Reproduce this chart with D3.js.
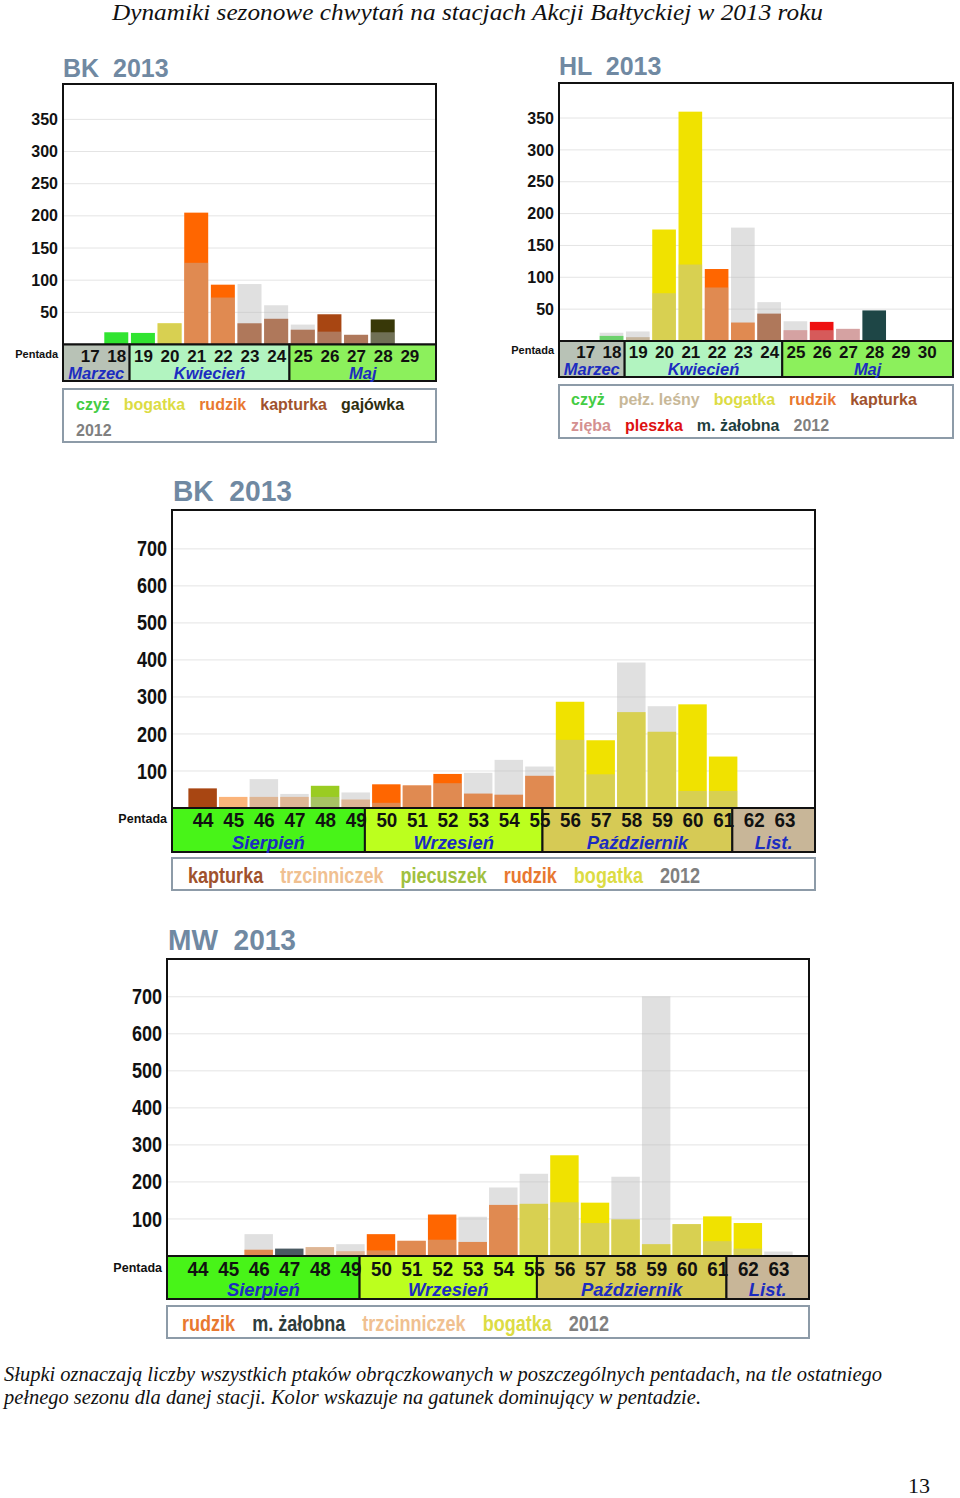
<!DOCTYPE html>
<html><head><meta charset="utf-8">
<script src="https://cdn.jsdelivr.net/npm/d3@7"></script>
<style>body{margin:0;background:#fff} svg{display:block}</style>
</head><body><svg id="c" width="960" height="1498"></svg>
<script>
// ---------------- DATA ----------------
const pageTitle = "Dynamiki sezonowe chwytań na stacjach Akcji Bałtyckiej w 2013 roku";
const captionLines = [
  "Słupki oznaczają liczby wszystkich ptaków obrączkowanych w poszczególnych pentadach, na tle ostatniego",
  "pełnego sezonu dla danej stacji. Kolor wskazuje na gatunek dominujący w pentadzie."
];
const pageNumber = "13";

const springTicks = [50, 100, 150, 200, 250, 300, 350];
const autumnTicks = [100, 200, 300, 400, 500, 600, 700];
const springMonths = ["Marzec", "Kwiecień", "Maj"];
const autumnMonths = ["Sierpień", "Wrzesień", "Październik", "List."];

// BK spring
const bkSpringPentads = [17, 18, 19, 20, 21, 22, 23, 24, 25, 26, 27, 28, 29];
const bkSpring2013 = [0, 19, 18, 33, 205, 93, 33, 40, 23, 47, 15, 39, 0];
const bkSpring2012 = [0, 0, 0, 33, 127, 73, 94, 61, 31, 20, 15, 19, 0];
const bkSpringSpecies = [null, "czyż", "czyż", "bogatka", "rudzik", "rudzik", "kapturka", "kapturka", "kapturka", "kapturka", "kapturka", "gajówka", null];
const bkSpringMonthEdges = [16, 18.5, 24.5, 30];
const bkSpringLegend = ["czyż", "bogatka", "rudzik", "kapturka", "gajówka", "2012"];

// HL spring
const hlPentads = [17, 18, 19, 20, 21, 22, 23, 24, 25, 26, 27, 28, 29, 30];
const hl2013 = [0, 8, 6, 175, 360, 113, 29, 43, 17, 30, 19, 48, 0, 0];
const hl2012 = [0, 13, 15, 75, 120, 84, 178, 61, 31, 17, 19, 0, 0, 0];
const hlSpecies = [null, "czyż", "pełz. leśny", "bogatka", "bogatka", "rudzik", "rudzik", "kapturka", "zięba", "pleszka", "zięba", "m. żałobna", null, null];
const hlMonthEdges = [16, 18.5, 24.5, 31];
const hlLegend = ["czyż", "pełz. leśny", "bogatka", "rudzik", "kapturka", "zięba", "pleszka", "m. żałobna", "2012"];

// BK autumn
const autumnPentads = [44, 45, 46, 47, 48, 49, 50, 51, 52, 53, 54, 55, 56, 57, 58, 59, 60, 61, 62, 63];
const bkAutumn2013 = [53, 30, 30, 30, 60, 23, 64, 61, 92, 39, 36, 87, 287, 183, 259, 206, 280, 139, 0, 0];
const bkAutumn2012 = [0, 0, 78, 38, 30, 42, 14, 61, 67, 95, 130, 112, 184, 91, 393, 275, 46, 46, 0, 0];
const bkAutumnSpecies = ["kapturka", "trzcinniczek", "trzcinniczek", "trzcinniczek", "piecuszek", "trzcinniczek", "rudzik", "rudzik", "rudzik", "rudzik", "rudzik", "rudzik", "bogatka", "bogatka", "bogatka", "bogatka", "bogatka", "bogatka", null, null];
const autumnMonthEdges = [43, 49.3, 55.1, 61.3, 64];
const bkAutumnLegend = ["kapturka", "trzcinniczek", "piecuszek", "rudzik", "bogatka", "2012"];

// MW autumn
const mw2013 = [0, 0, 17, 20, 24, 13, 59, 41, 112, 38, 138, 141, 272, 144, 99, 32, 86, 107, 89, 0];
const mw2012 = [0, 0, 59, 0, 24, 32, 15, 41, 44, 106, 185, 222, 145, 89, 214, 701, 86, 40, 20, 12];
const mwSpecies = [null, null, "rudzik", "m. żałobna", "trzcinniczek", "trzcinniczek", "rudzik", "rudzik", "rudzik", "rudzik", "rudzik", "bogatka", "bogatka", "bogatka", "bogatka", "bogatka", "bogatka", "bogatka", "bogatka", null];
const mwLegend = ["rudzik", "m. żałobna", "trzcinniczek", "bogatka", "2012"];

// ---------------- STYLE ----------------
const SANS = "'Liberation Sans', Arial, sans-serif";
const SERIF = "'Liberation Serif', 'Times New Roman', serif";
const barColor = {
  "czyż": "#30e430", "bogatka": "#f0e200", "rudzik": "#ff6600", "kapturka": "#a84612",
  "gajówka": "#383808", "pełz. leśny": "#d0b488", "zięba": "#ec9090", "pleszka": "#ee1010",
  "m. żałobna": "#1e4646", "trzcinniczek": "#fbb47a", "piecuszek": "#9acc22"
};
const textColor = {
  "czyż": "#44cc44", "bogatka": "#dcdc44", "rudzik": "#e87830", "kapturka": "#a0522d",
  "gajówka": "#2e2e10", "2012": "#808080", "pełz. leśny": "#c8b898", "zięba": "#d49090",
  "pleszka": "#dd1111", "m. żałobna": "#1e3e3e", "trzcinniczek": "#f0c090", "piecuszek": "#a0c040"
};
const springMonthColors = ["#b8c2b6", "#b2f4c0", "#8cf05c"];
const autumnMonthColors = ["#48f418", "#bcff1e", "#d6ca55", "#c8b698"];
const monthTextColor = "#1c2cc0";
const titleColor = "#7089a2";

const svg = d3.select("#c");

// horizontally condense text (narrow face not installed)
function condense(sel, f) {
  if (f === 1) return;
  sel.each(function () {
    const w = this.getComputedTextLength();
    d3.select(this).attr("textLength", w * f).attr("lengthAdjust", "spacingAndGlyphs");
  });
}

function drawChart(c) {
  const g = svg.append("g");
  const x = d3.scaleLinear().domain(c.domain).range([c.x0, c.x1]);
  const y = d3.scaleLinear().domain([0, c.ymax]).range([c.y1, c.y0]);
  const step = x(1) - x(0);
  const bw = step * c.barFrac;
  const colors = Object.assign({}, barColor, c.colorOverride || {});
  const f = c.squeeze;

  g.selectAll("line.grid").data(c.ticks).join("line")
    .attr("x1", c.x0).attr("x2", c.x1)
    .attr("y1", d => y(d)).attr("y2", d => y(d))
    .attr("stroke", "#e4e4e4").attr("stroke-width", 1);

  const ax = g.append("g").attr("transform", `translate(${c.x0 - 2},0)`)
    .call(d3.axisLeft(y).tickValues(c.ticks).tickSize(0).tickPadding(3));
  ax.select(".domain").remove();
  ax.attr("font-family", SANS).attr("font-size", c.tickSize).attr("font-weight", "bold");
  ax.selectAll("text").attr("fill", "#111");
  condense(ax.selectAll("text"), f);

  const rows = c.pentads.map((p, i) => ({ p, v13: c.v13[i], v12: c.v12[i], sp: c.species[i] }));
  g.selectAll("rect.b13").data(rows.filter(r => r.v13 > 0)).join("rect")
    .attr("x", r => x(r.p) - bw / 2).attr("width", bw)
    .attr("y", r => y(r.v13)).attr("height", r => y(0) - y(r.v13))
    .attr("fill", r => colors[r.sp]);
  g.selectAll("rect.b12").data(rows.filter(r => r.v12 > 0)).join("rect")
    .attr("x", r => x(r.p) - bw / 2).attr("width", bw)
    .attr("y", r => y(r.v12)).attr("height", r => y(0) - y(r.v12))
    .attr("fill", "#b8b8b8").attr("fill-opacity", 0.44);

  g.append("rect").attr("x", c.x0).attr("y", c.y0).attr("width", c.x1 - c.x0).attr("height", c.y1 - c.y0)
    .attr("fill", "none").attr("stroke", "#111").attr("stroke-width", 2);

  const months = c.months.map((m, i) => ({ m, a: c.edges[i], b: c.edges[i + 1], col: c.monthColors[i] }));
  g.selectAll("rect.month").data(months).join("rect")
    .attr("x", d => x(d.a)).attr("width", d => x(d.b) - x(d.a))
    .attr("y", c.y1).attr("height", c.band)
    .attr("fill", d => d.col).attr("stroke", "#111").attr("stroke-width", 2);

  const bx = g.append("g").attr("transform", `translate(0,${c.y1})`)
    .call(d3.axisBottom(x).tickValues(c.pentads).tickSize(0).tickPadding(0).tickFormat(d3.format("d")));
  bx.select(".domain").remove();
  bx.attr("font-family", SANS).attr("font-size", c.numSize).attr("font-weight", "bold");
  bx.selectAll("text").attr("fill", "#111").attr("dy", null).attr("y", c.numBase);
  condense(bx.selectAll("text"), c.numSqueeze);

  const mt = g.selectAll("text.month").data(months).join("text")
    .attr("x", d => (x(d.a) + x(d.b)) / 2).attr("y", c.y1 + c.monthBase)
    .attr("text-anchor", "middle").attr("font-family", SANS).attr("font-size", c.monthSize)
    .attr("font-weight", "bold").attr("font-style", "italic").attr("fill", monthTextColor)
    .text(d => d.m);
  condense(mt, c.monthSqueeze);

  g.append("text").attr("x", c.x0 - 5).attr("y", c.y1 + c.pentadaBase)
    .attr("text-anchor", "end").attr("font-family", SANS).attr("font-size", c.pentadaSize)
    .attr("font-weight", "bold").attr("fill", "#111").text("Pentada");

  g.append("rect").attr("x", c.x0).attr("y", c.legTop).attr("width", c.x1 - c.x0).attr("height", c.legBottom - c.legTop)
    .attr("fill", "#fff").attr("stroke", "#8d9ba8").attr("stroke-width", 2);
  let lx = c.x0 + c.legPad, ly = c.legTop + c.legBase;
  c.legend.forEach(name => {
    const t = g.append("text").attr("font-family", SANS).attr("font-size", c.legSize)
      .attr("font-weight", "bold").attr("fill", (c.legendColorOverride || {})[name] || textColor[name]).text(name);
    condense(t, f);
    const ww = f === 1 ? t.node().getComputedTextLength() : +t.attr("textLength");
    if (lx + ww > c.x1 - 6) { lx = c.x0 + c.legPad; ly += c.legLine; }
    t.attr("x", lx).attr("y", ly);
    lx += ww + c.legGap;
  });

  const tt = g.append("text").attr("x", c.titleX).attr("y", c.titleY)
    .attr("font-family", SANS).attr("font-size", c.titleSize).attr("font-weight", "bold")
    .attr("fill", titleColor).style("white-space", "pre").text(c.title);
  if (c.titleLen) tt.attr("textLength", c.titleLen).attr("lengthAdjust", "spacingAndGlyphs");
}

drawChart({
  title: "BK  2013", titleX: 63, titleY: 77, titleSize: 25, squeeze: 1, numSqueeze: 1, monthSqueeze: 1,
  pentads: bkSpringPentads, v13: bkSpring2013, v12: bkSpring2012, species: bkSpringSpecies,
  domain: [16, 30], x0: 63, x1: 436, y0: 84, y1: 344.5, ymax: 405, ticks: springTicks, barFrac: 0.9,
  months: springMonths, edges: bkSpringMonthEdges, monthColors: springMonthColors,
  band: 36.5, tickSize: 16, numSize: 17, numBase: 17.5, monthSize: 16.5, monthBase: 34,
  pentadaSize: 11, pentadaBase: 13,
  legend: bkSpringLegend, legTop: 389, legBottom: 442, legPad: 13, legBase: 21, legLine: 26, legGap: 14, legSize: 16
});
drawChart({
  title: "HL  2013", titleX: 559, titleY: 75, titleSize: 25, squeeze: 1, numSqueeze: 1, monthSqueeze: 1,
  pentads: hlPentads, v13: hl2013, v12: hl2012, species: hlSpecies,
  domain: [16, 31], x0: 559, x1: 953, y0: 83, y1: 341, ymax: 405, ticks: springTicks, barFrac: 0.9,
  months: springMonths, edges: hlMonthEdges, monthColors: springMonthColors,
  band: 36, tickSize: 16, numSize: 17, numBase: 17, monthSize: 16.5, monthBase: 34,
  pentadaSize: 11, pentadaBase: 13,
  legend: hlLegend, legTop: 385, legBottom: 438, legPad: 12, legBase: 20, legLine: 26, legGap: 14, legSize: 16
});
drawChart({
  title: "BK  2013", titleX: 173, titleY: 501, titleSize: 29, titleLen: 119, squeeze: 0.82, numSqueeze: 0.94, monthSqueeze: 0.97,
  pentads: autumnPentads, v13: bkAutumn2013, v12: bkAutumn2012, species: bkAutumnSpecies,
  domain: [43, 64], x0: 172, x1: 815, y0: 510, y1: 808, ymax: 805, ticks: autumnTicks, barFrac: 0.93,
  months: autumnMonths, edges: autumnMonthEdges, monthColors: autumnMonthColors,
  band: 44, tickSize: 22, numSize: 20, numBase: 19, monthSize: 19, monthBase: 40.5,
  pentadaSize: 12.5, pentadaBase: 15,
  legend: bkAutumnLegend, legTop: 858, legBottom: 890, legPad: 16, legBase: 25, legLine: 26, legGap: 17, legSize: 22
});
drawChart({
  title: "MW  2013", titleX: 168, titleY: 950, titleSize: 29, titleLen: 128, squeeze: 0.82, numSqueeze: 0.94, monthSqueeze: 0.97,
  pentads: autumnPentads, v13: mw2013, v12: mw2012, species: mwSpecies,
  colorOverride: { "m. żałobna": "#4a5a62" }, legendColorOverride: { "m. żałobna": "#2e3c3c" },
  domain: [43, 64], x0: 167, x1: 809, y0: 959, y1: 1256, ymax: 802, ticks: autumnTicks, barFrac: 0.93,
  months: autumnMonths, edges: autumnMonthEdges, monthColors: autumnMonthColors,
  band: 43, tickSize: 22, numSize: 20, numBase: 19.5, monthSize: 19, monthBase: 40,
  pentadaSize: 12.5, pentadaBase: 16,
  legend: mwLegend, legTop: 1306, legBottom: 1338, legPad: 15, legBase: 25, legLine: 26, legGap: 17, legSize: 22
});

svg.append("text").attr("x", 112).attr("y", 20).attr("font-family", SERIF).attr("font-style", "italic")
  .attr("font-size", 24).attr("textLength", 711).attr("lengthAdjust", "spacingAndGlyphs")
  .attr("fill", "#111").text(pageTitle);
const capLens = [878, 697];
captionLines.forEach((line, i) => {
  svg.append("text").attr("x", 4).attr("y", 1381 + i * 23).attr("font-family", SERIF).attr("font-style", "italic")
    .attr("font-size", 20).attr("textLength", capLens[i]).attr("lengthAdjust", "spacingAndGlyphs")
    .attr("fill", "#111").text(line);
});
svg.append("text").attr("x", 908).attr("y", 1493).attr("font-family", SERIF).attr("font-size", 22)
  .attr("fill", "#111").text(pageNumber);
</script></body></html>
